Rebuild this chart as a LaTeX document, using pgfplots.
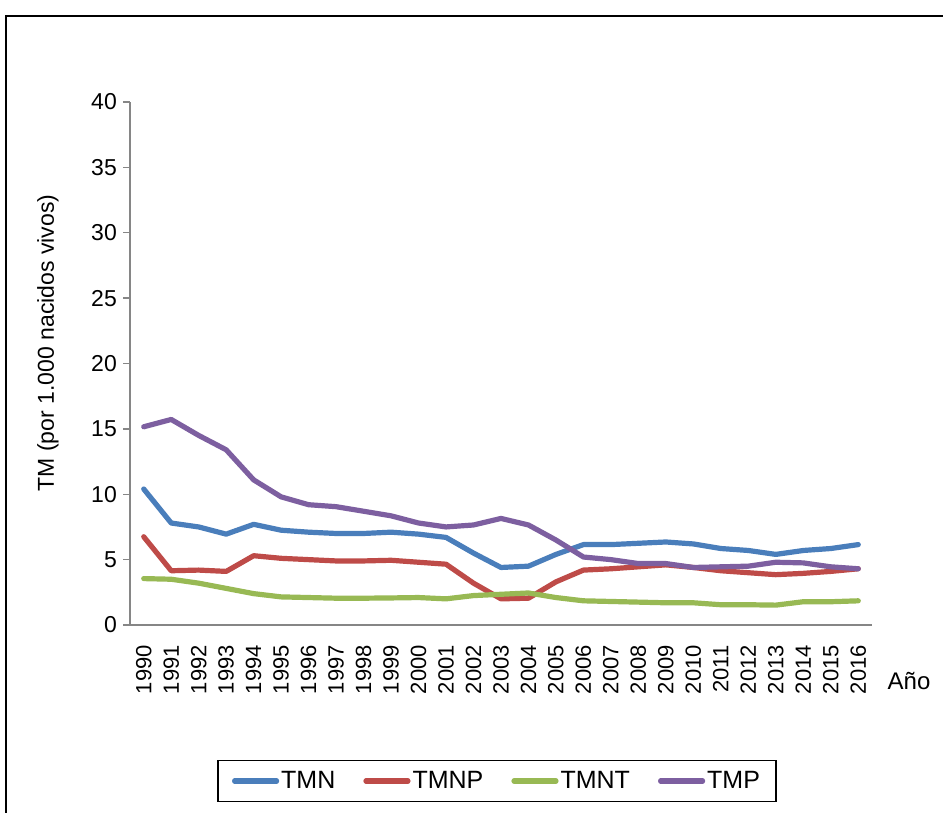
\documentclass[border=0pt]{standalone}
\usepackage{pgfplots}
\pgfplotsset{compat=1.18}
\usepackage{fontspec}
\setmainfont{Liberation Sans}
\definecolor{cTMN}{HTML}{4A7EBB}
\definecolor{cTMNP}{HTML}{BE4B48}
\definecolor{cTMNT}{HTML}{98B954}
\definecolor{cTMP}{HTML}{7D5FA0}
\definecolor{axgray}{HTML}{868686}
\begin{document}
\begin{tikzpicture}[x=1pt,y=1pt]
\useasboundingbox (0,0) rectangle (943,-813);
\draw[line width=1.6pt, black] (6,-830) -- (6,-16) -- (960,-16);
\begin{axis}[
  at={(130pt,-625pt)}, anchor=south west,
  scale only axis, width=742pt, height=523pt,
  xmin=1989.5, xmax=2016.5, ymin=0, ymax=40,
  xtick={1990,...,2016}, ytick={0,5,...,40},
  /pgf/number format/assume math mode=true,
  /pgf/number format/1000 sep={},
  axis x line=bottom, axis y line=left,
  axis line style={-, draw=axgray, line width=1.3pt},
  tick align=outside,
  ytick style={draw=axgray, line width=1.3pt},
  major tick length=7pt,
  xtick style={draw=none},
  y tick label style={font=\fontsize{23}{27}\selectfont, inner sep=0pt, xshift=-6pt},
  x tick label style={font=\fontsize{22}{26}\selectfont, inner sep=0pt, yshift=-13pt, rotate=90, anchor=east},
  legend columns=4,
  legend style={at={(axis description cs:0.4946,-0.2983)}, anchor=center,
    draw=black, line width=1.5pt, inner xsep=14pt, inner ysep=9pt,
    font=\fontsize{25}{29}\selectfont,
    nodes={inner sep=2pt},
    /tikz/every even column/.append style={column sep=26pt}},
  legend image code/.code={\draw[#1, line cap=round] (0pt,0pt) -- (42pt,0pt);},
  every axis plot/.append style={line width=5.2pt, line join=round, line cap=round, mark=none},
]
\addplot[cTMN] coordinates {
(1990,10.4) (1991,7.8) (1992,7.5) (1993,6.95) (1994,7.7) (1995,7.25) (1996,7.1) (1997,7.0) (1998,7.0) (1999,7.1) (2000,6.95) (2001,6.7) (2002,5.5) (2003,4.4) (2004,4.5) (2005,5.4) (2006,6.15) (2007,6.15) (2008,6.25) (2009,6.35) (2010,6.2) (2011,5.85) (2012,5.7) (2013,5.4) (2014,5.7) (2015,5.85) (2016,6.15)};
\addlegendentry{TMN}
\addplot[cTMNP] coordinates {
(1990,6.75) (1991,4.15) (1992,4.2) (1993,4.1) (1994,5.3) (1995,5.1) (1996,5.0) (1997,4.9) (1998,4.9) (1999,4.95) (2000,4.8) (2001,4.65) (2002,3.2) (2003,2.0) (2004,2.05) (2005,3.3) (2006,4.2) (2007,4.3) (2008,4.45) (2009,4.6) (2010,4.4) (2011,4.15) (2012,4.0) (2013,3.85) (2014,3.95) (2015,4.1) (2016,4.3)};
\addlegendentry{TMNP}
\addplot[cTMNT] coordinates {
(1990,3.55) (1991,3.5) (1992,3.2) (1993,2.8) (1994,2.4) (1995,2.15) (1996,2.1) (1997,2.05) (1998,2.05) (1999,2.07) (2000,2.1) (2001,2.0) (2002,2.25) (2003,2.35) (2004,2.45) (2005,2.1) (2006,1.85) (2007,1.8) (2008,1.75) (2009,1.7) (2010,1.7) (2011,1.55) (2012,1.55) (2013,1.52) (2014,1.78) (2015,1.78) (2016,1.85)};
\addlegendentry{TMNT}
\addplot[cTMP] coordinates {
(1990,15.16) (1991,15.72) (1992,14.5) (1993,13.4) (1994,11.1) (1995,9.8) (1996,9.2) (1997,9.05) (1998,8.7) (1999,8.35) (2000,7.8) (2001,7.5) (2002,7.65) (2003,8.15) (2004,7.65) (2005,6.5) (2006,5.2) (2007,5.0) (2008,4.7) (2009,4.7) (2010,4.4) (2011,4.45) (2012,4.5) (2013,4.8) (2014,4.75) (2015,4.45) (2016,4.3)};
\addlegendentry{TMP}
\end{axis}
\node[rotate=90, font=\fontsize{23}{27}\selectfont, inner sep=0pt] at (48,-343) {TM (por 1.000 nacidos vivos)};
\node[font=\fontsize{24}{28}\selectfont, inner sep=0pt] at (909,-681) {Año};
\end{tikzpicture}
\end{document}
